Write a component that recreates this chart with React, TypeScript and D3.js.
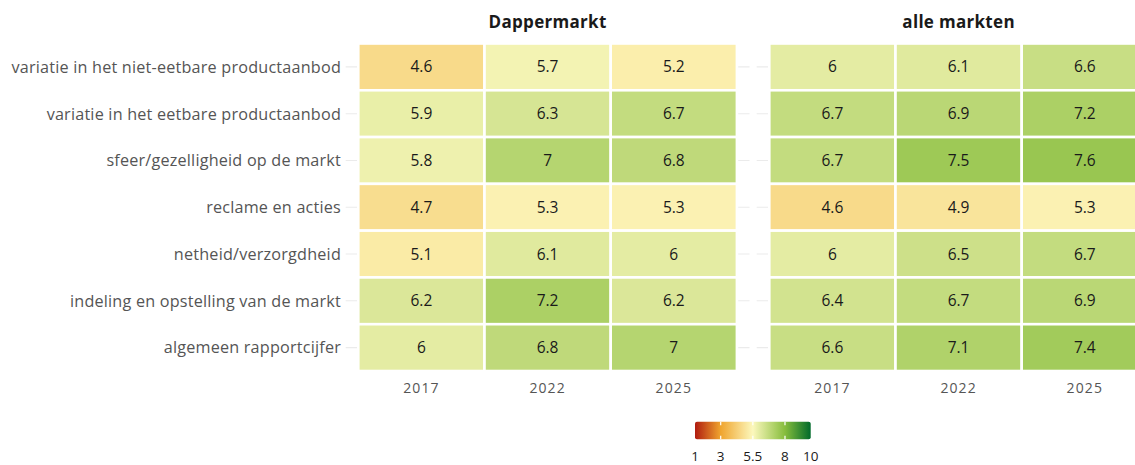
import React from "react";
import * as d3 from "d3";

const items = [
  "variatie in het niet-eetbare productaanbod",
  "variatie in het eetbare productaanbod",
  "sfeer/gezelligheid op de markt",
  "reclame en acties",
  "netheid/verzorgdheid",
  "indeling en opstelling van de markt",
  "algemeen rapportcijfer",
];
const years = ["2017", "2022", "2025"];
const facets = ["Dappermarkt", "alle markten"];

const dapper2017 = [4.6, 5.9, 5.8, 4.7, 5.1, 6.2, 6];
const dapper2022 = [5.7, 6.3, 7, 5.3, 6.1, 7.2, 6.8];
const dapper2025 = [5.2, 6.7, 6.8, 5.3, 6, 6.2, 7];
const alle2017 = [6, 6.7, 6.7, 4.6, 6, 6.4, 6.6];
const alle2022 = [6.1, 6.9, 7.5, 4.9, 6.5, 6.7, 7.1];
const alle2025 = [6.6, 7.2, 7.6, 5.3, 6.7, 6.9, 7.4];

const legendBreaks = [1, 3, 5.5, 8, 10];
const legendColors = ["#b01c10", "#f0a52e", "#fcf8bd", "#86bd3c", "#006a2a"];

const W = 1135;
const H = 465;

export default function App() {
  const seriesByFacet = [
    [dapper2017, dapper2022, dapper2025],
    [alle2017, alle2022, alle2025],
  ];

  const color = d3
    .scaleLinear<string>()
    .domain(legendBreaks)
    .range(legendColors)
    .interpolate(d3.interpolateRgb);

  const y = d3.scaleBand<string>().domain(items).range([43.5, 371]).padding(0);
  const panelLefts = [358.3, 769.3];
  const colW = 126.2;
  const expand = 0.1 * colW;

  const legX = d3.scaleLinear().domain([1, 10]).range([695, 810.7]);
  const legY0 = 421.7;
  const legY1 = 439.3;
  const gradStops = d3.range(0, 1.0001, 0.02).map((t) => {
    const v = 1 + t * 9;
    return { offset: t, c: color(v) };
  });

  const labelFont = "'Open Sans', Lato, sans-serif";

  return (
    <svg width={W} height={H} style={{ position: "absolute", left: 0, top: 0 }}>
      <defs>
        <linearGradient id="leg" x1="0" x2="1" y1="0" y2="0">
          {gradStops.map((s, i) => (
            <stop key={i} offset={s.offset} stopColor={s.c} />
          ))}
        </linearGradient>
      </defs>
      <rect x={0} y={0} width={W} height={H} fill="white" />
      {facets.map((f, fi) => {
        const x = d3
          .scaleBand<string>()
          .domain(years)
          .range([panelLefts[fi], panelLefts[fi] + colW * 3])
          .padding(0);
        const x0 = panelLefts[fi] - expand;
        const x1 = panelLefts[fi] + colW * 3 + expand;
        return (
          <g key={f}>
            {items.map((it) => (
              <line
                key={it}
                x1={x0}
                x2={x1}
                y1={(y(it) ?? 0) + y.bandwidth() / 2}
                y2={(y(it) ?? 0) + y.bandwidth() / 2}
                stroke="#ebebeb"
                strokeWidth={1.1}
              />
            ))}
            {years.map((yr, yi) =>
              items.map((it, ii) => {
                const v = seriesByFacet[fi][yi][ii];
                return (
                  <g key={yr + it}>
                    <rect
                      x={x(yr)}
                      y={y(it)}
                      width={x.bandwidth()}
                      height={y.bandwidth()}
                      fill={color(v)}
                      stroke="white"
                      strokeWidth={2.6}
                    />
                    <text
                      x={(x(yr) ?? 0) + x.bandwidth() / 2}
                      y={(y(it) ?? 0) + y.bandwidth() / 2}
                      dy="0.36em"
                      textAnchor="middle"
                      fontFamily={labelFont}
                      fontSize={15.5}
                      fill="#1a1a1a"
                    >
                      {String(v)}
                    </text>
                  </g>
                );
              })
            )}
            {years.map((yr) => (
              <text
                key={yr}
                x={(x(yr) ?? 0) + x.bandwidth() / 2}
                y={388}
                dy="0.36em"
                textAnchor="middle"
                fontFamily={labelFont}
                fontSize={14}
                fill="#555555"
                letterSpacing={1.1}
              >
                {yr}
              </text>
            ))}
            <text
              x={panelLefts[fi] + (colW * 3) / 2}
              y={22}
              dy="0.36em"
              textAnchor="middle"
              fontFamily={labelFont}
              fontWeight="bold"
              fontSize={17}
              letterSpacing={0.3}
              fill="#1a1a1a"
            >
              {f}
            </text>
          </g>
        );
      })}
      {items.map((it) => (
        <text
          key={it}
          x={341}
          y={(y(it) ?? 0) + y.bandwidth() / 2}
          dy="0.36em"
          textAnchor="end"
          fontFamily={labelFont}
          fontSize={16.2}
          letterSpacing={0.2}
          fill="#555555"
        >
          {it}
        </text>
      ))}
      <rect
        x={legX(1)}
        y={legY0}
        width={legX(10) - legX(1)}
        height={legY1 - legY0}
        fill="url(#leg)"
        rx={2}
      />
      {legendBreaks.slice(1, 4).map((b) => (
        <g key={b}>
          <line x1={legX(b)} x2={legX(b)} y1={legY0} y2={legY0 + 3.5} stroke="white" strokeWidth={1.2} />
          <line x1={legX(b)} x2={legX(b)} y1={legY1 - 3.5} y2={legY1} stroke="white" strokeWidth={1.2} />
        </g>
      ))}
      {legendBreaks.map((b) => (
        <text
          key={b}
          x={legX(b)}
          y={456}
          dy="0.36em"
          textAnchor="middle"
          fontFamily={labelFont}
          fontSize={13.5}
          fill="#1a1a1a"
        >
          {String(b)}
        </text>
      ))}
    </svg>
  );
}
